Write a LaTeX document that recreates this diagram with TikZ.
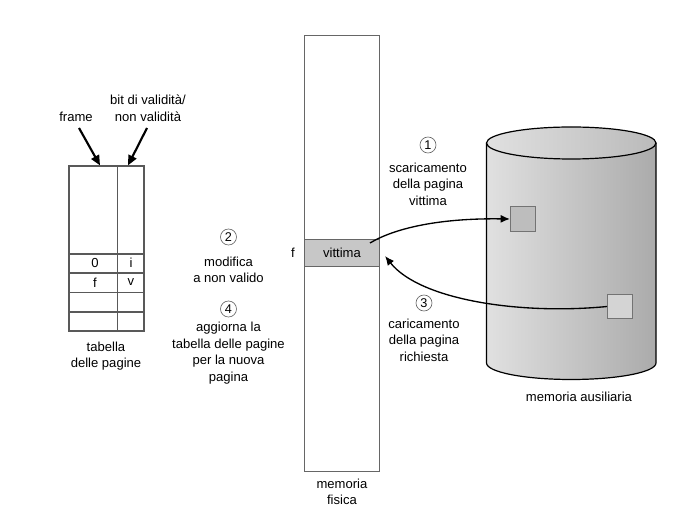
\documentclass[tikz,border=0pt]{standalone}
\usepackage{fontspec}
\setmainfont{Liberation Sans}
\usetikzlibrary{arrows.meta}

\tikzset{every picture/.style={line width=0.75pt}}
\tikzset{
	txt/.style={inner sep=0.75pt, align=center, font=\fontsize{9.8}{12.4}\selectfont},
	num/.style={draw=black!60, circle, line width=0.5pt, inner sep=0.5pt, minimum size=12pt, font=\fontsize{9.5}{11}\selectfont},
	cellbox/.style={draw=black!65, line width=0.9pt},
	bigarrow/.style={line width=1.6pt, -{Triangle[length=7.5pt,width=6.5pt]}},
	swaparrow/.style={line width=1pt, -{Latex[length=7pt,width=6pt]}}
}

\begin{document}
\begin{tikzpicture}[x=0.75pt,y=0.75pt,yscale=-1,xscale=1]
		\useasboundingbox (0,0) rectangle (694,509);
		
		%Shape: Page table [id:tab]
		\node [cellbox, minimum width=56.25pt, minimum height=123.75pt, inner sep=0pt] (tab) at (106.5,248.5) {};
		%Straight Lines [id:divider]
		\draw [draw=black!65, line width=0.9pt] (117.5,166) -- (117.5,331) ;
		\draw [draw=black!65, line width=0.9pt] (69,254) -- (144,254) (69,273) -- (144,273) (69,292.5) -- (144,292.5) (69,312) -- (144,312) ;
		
		% Text Node
		\node [txt] (frm) at (76,117) {frame};
		% Text Node
		\node [txt] (bitv) at (148,108) {bit di validità/\\non validità};
		% Text Node
		\node [txt] (c0) at (95,263) {0};
		\node [txt] (ci) at (131,263) {i};
		\node [txt] (cf) at (95,282.5) {f};
		\node [txt] (cv) at (131,282.5) {v};
		% Text Node
		\node [txt] (tablbl) at (106,356) {tabella\\delle pagine};
		
		%Arrows to the table
		\coordinate (frmtail) at (79,128);
		\coordinate (bittail) at (147,128);
		\draw [bigarrow] (frmtail) -- (tab.north -| 100,0) ;
		\draw [bigarrow] (bittail) -- (tab.north -| 128,0) ;
		
		% Text Node
		\node [num] (n2) at (228.5,237) {2};
		\node [txt] (t2) at (228.5,270) {modifica\\a non valido};
		% Text Node
		\node [num] (n4) at (228.5,309) {4};
		\node [txt] (t4) at (228.5,353) {aggiorna la\\tabella delle pagine\\per la nuova\\pagina};
		
		%Shape: Physical memory [id:mem]
		\node [draw=black!60, line width=1pt, minimum width=56.25pt, minimum height=327pt, inner sep=0pt] (mem) at (342,253.5) {};
		\node [draw=black!60, fill=black!22, line width=1pt, minimum width=56.25pt, minimum height=20.5pt, inner sep=0pt, font=\fontsize{9.8}{12}\selectfont] (vit) at (342,253) {vittima};
		% Text Node
		\node [txt] (flbl) at (293,253) {f};
		% Text Node
		\node [txt] (memlbl) at (342,492) {memoria\\fisica};
		
		%Shape: Cylinder [id:disk]
		\shade [left color=black!12, right color=black!33] (486.5,143) -- (486.5,363) arc [start angle=180, end angle=0, x radius=84.75, y radius=16.5] -- (656,143) -- cycle ;
		\draw [line width=0.9pt] (486.5,143) -- (486.5,363) arc [start angle=180, end angle=0, x radius=84.75, y radius=16.5] -- (656,143) ;
		\draw [line width=0.9pt, left color=black!12, right color=black!27] (571.25,143) ellipse [x radius=84.75, y radius=16] ;
		% Text Node
		\node [txt] (disklbl) at (579,397) {memoria ausiliaria};
		
		%Shape: Pages on disk
		\node [draw=black!55, fill=black!26, line width=0.8pt, minimum size=18.75pt, inner sep=0pt] (sqa) at (523,219) {};
		\node [draw=black!55, fill=black!17, line width=0.8pt, minimum size=18.5pt, inner sep=0pt] (sqb) at (620,306.5) {};
		
		% Text Node
		\node [num] (n1) at (428,145) {1};
		\node [txt] (t1) at (428,184) {scaricamento\\della pagina\\vittima};
		% Text Node
		\node [num] (n3) at (424,303) {3};
		\node [txt] (t3) at (424,340) {caricamento\\della pagina\\richiesta};
		
		%Curve Lines
		\coordinate (vout) at (370,243);
		\coordinate (vin) at (385,256);
		\draw [swaparrow] (vout) .. controls (395,228) and (440,218) .. (sqa.west) ;
		\draw [swaparrow] (sqb.west) .. controls (520,315) and (420,300) .. (vin) ;
		
\end{tikzpicture}
\end{document}
